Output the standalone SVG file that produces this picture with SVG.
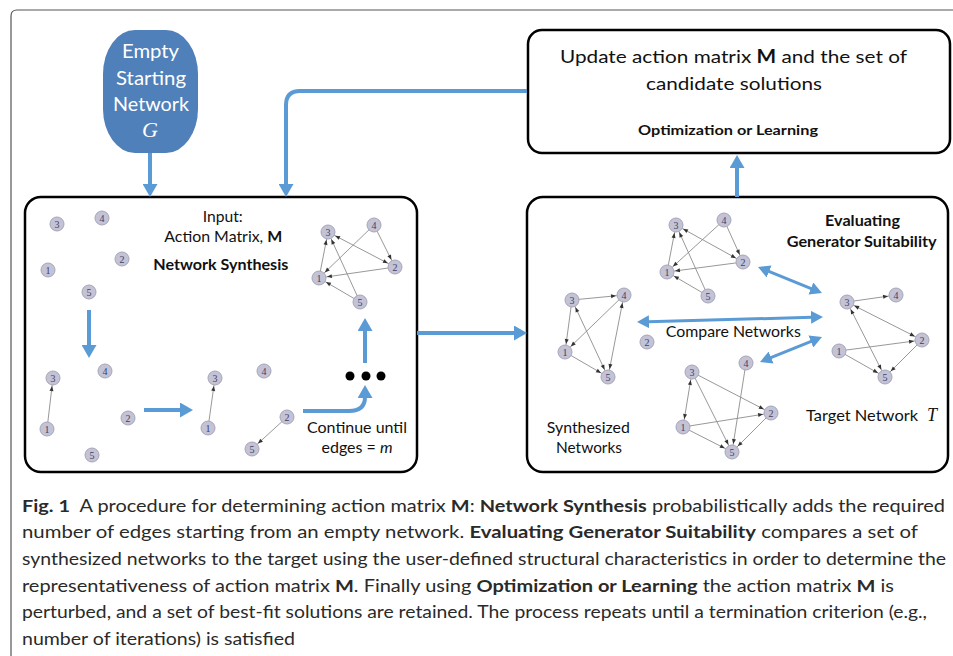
<svg xmlns="http://www.w3.org/2000/svg" width="953" height="656" viewBox="0 0 953 656">
<style>
.t{font-family:Lato,"Liberation Sans",sans-serif;fill:#111}
.b{font-weight:bold}
.box{fill:#fff;stroke:#000;stroke-width:2.5}
.blue{fill:none;stroke:#5b9bd5;stroke-width:4}
.blue3{fill:none;stroke:#5b9bd5;stroke-width:3}
.e1{stroke:#8c8c8c;stroke-width:0.9;fill:none;marker-end:url(#sa)}
.e2{stroke:#8c8c8c;stroke-width:0.9;fill:none;marker-end:url(#sa);marker-start:url(#sa)}
.n circle{fill:#c3c3d5;stroke:#a6a6ba;stroke-width:1}
.n text{font-family:"Liberation Serif",serif;font-size:10px;fill:#40406a;text-anchor:middle}
.cap{font-family:Lato,"Liberation Sans",sans-serif;font-size:17px;fill:#2a2a2a}
</style>
<defs>
<marker id="ba" viewBox="0 0 13 15" refX="1" refY="7.5" markerWidth="13" markerHeight="15" markerUnits="userSpaceOnUse" orient="auto-start-reverse">
<path d="M0,0 L13,7.5 L0,15 z" fill="#5b9bd5"/>
</marker>
<marker id="bs" viewBox="0 0 12 13" refX="1" refY="6.5" markerWidth="12" markerHeight="13" markerUnits="userSpaceOnUse" orient="auto-start-reverse">
<path d="M0,0 L12,6.5 L0,13 z" fill="#5b9bd5"/>
</marker>
<marker id="sa" viewBox="0 0 10 10" refX="26" refY="5" markerWidth="5" markerHeight="5" markerUnits="userSpaceOnUse" orient="auto-start-reverse" overflow="visible">
<path d="M0,1 L10,5 L0,9 z" fill="#333"/>
</marker>
</defs>
<rect width="953" height="656" fill="#fff"/>
<path d="M11,656 V16 Q11,10 17,10 H953" fill="none" stroke="#555" stroke-width="1.2"/>

<g id="empty-start">
<rect x="103" y="30" width="95" height="123" rx="32" ry="44" fill="#4f80b9"/>
<text class="t" x="150.5" y="57.5" font-size="19" style="fill:#fff" text-anchor="middle" textLength="57" lengthAdjust="spacingAndGlyphs">Empty</text>
<text class="t" x="151" y="85" font-size="19" style="fill:#fff" text-anchor="middle" textLength="70" lengthAdjust="spacingAndGlyphs">Starting</text>
<text class="t" x="151" y="110.5" font-size="19" style="fill:#fff" text-anchor="middle" textLength="76" lengthAdjust="spacingAndGlyphs">Network</text>
<text x="150" y="137" font-family="'Liberation Serif',serif" font-style="italic" font-size="22" fill="#fff" text-anchor="middle">G</text>
</g>

<g id="update-box">
<rect class="box" x="528" y="30" width="422" height="123" rx="14"/>
<text class="t" x="733.5" y="63" font-size="18" text-anchor="middle" textLength="347" lengthAdjust="spacingAndGlyphs">Update action matrix <tspan class="b">M</tspan> and the set of</text>
<text class="t" x="734" y="90" font-size="18" text-anchor="middle" textLength="176" lengthAdjust="spacingAndGlyphs">candidate solutions</text>
<text class="t b" x="728" y="135" font-size="14" text-anchor="middle" textLength="180" lengthAdjust="spacingAndGlyphs">Optimization or Learning</text>
</g>

<g id="network-synthesis">
<rect class="box" x="25" y="197" width="392" height="275" rx="16"/>
<text class="t" x="222.7" y="222" font-size="16" text-anchor="middle" textLength="40" lengthAdjust="spacingAndGlyphs">Input:</text>
<text class="t" x="223.3" y="242" font-size="16" text-anchor="middle" textLength="118" lengthAdjust="spacingAndGlyphs">Action Matrix, <tspan class="b">M</tspan></text>
<text class="t b" x="220.8" y="270" font-size="16" text-anchor="middle" textLength="135" lengthAdjust="spacingAndGlyphs">Network Synthesis</text>
<text class="t" x="357" y="433" font-size="16" text-anchor="middle" textLength="100" lengthAdjust="spacingAndGlyphs">Continue until</text>
<text class="t" x="357" y="453" font-size="16" text-anchor="middle" textLength="71" lengthAdjust="spacingAndGlyphs">edges = <tspan font-style="italic">m</tspan></text>
<g id="dots" fill="#000"><circle cx="350" cy="376" r="4.5"/><circle cx="366" cy="376" r="4.5"/><circle cx="381" cy="376" r="4.5"/></g>
<g id="ns-empty">
<g class="n"><circle cx="57" cy="224" r="7"/><text x="57" y="227.5">3</text></g>
<g class="n"><circle cx="102" cy="218" r="7"/><text x="102" y="221.5">4</text></g>
<g class="n"><circle cx="122" cy="259" r="7"/><text x="122" y="262.5">2</text></g>
<g class="n"><circle cx="48" cy="270" r="7"/><text x="48" y="273.5">1</text></g>
<g class="n"><circle cx="89" cy="292" r="7"/><text x="89" y="295.5">5</text></g>
</g>
<g id="ns-step1">
<path class="e1" d="M47,429 L53,378"/>
<g class="n"><circle cx="53" cy="378" r="7"/><text x="53" y="381.5">3</text></g>
<g class="n"><circle cx="105" cy="371" r="7"/><text x="105" y="374.5">4</text></g>
<g class="n"><circle cx="128" cy="418" r="7"/><text x="128" y="421.5">2</text></g>
<g class="n"><circle cx="47" cy="429" r="7"/><text x="47" y="432.5">1</text></g>
<g class="n"><circle cx="92" cy="455" r="7"/><text x="92" y="458.5">5</text></g>
</g>
<g id="ns-step2">
<path class="e1" d="M208,428 L215,378"/>
<path class="e1" d="M287,417 L252,449"/>
<g class="n"><circle cx="215" cy="378" r="7"/><text x="215" y="381.5">3</text></g>
<g class="n"><circle cx="264" cy="371" r="7"/><text x="264" y="374.5">4</text></g>
<g class="n"><circle cx="287" cy="417" r="7"/><text x="287" y="420.5">2</text></g>
<g class="n"><circle cx="208" cy="428" r="7"/><text x="208" y="431.5">1</text></g>
<g class="n"><circle cx="252" cy="449" r="7"/><text x="252" y="452.5">5</text></g>
</g>
<g id="ns-full">
<path class="e1" d="M319,278 L328,232"/>
<path class="e1" d="M360,302 L328,232"/>
<path class="e2" d="M395,267 L328,232"/>
<path class="e1" d="M374,225 L395,267"/>
<path class="e1" d="M374,225 L319,278"/>
<path class="e1" d="M395,267 L319,278"/>
<path class="e1" d="M360,302 L319,278"/>
<g class="n"><circle cx="328" cy="232" r="7"/><text x="328" y="235.5">3</text></g>
<g class="n"><circle cx="374" cy="225" r="7"/><text x="374" y="228.5">4</text></g>
<g class="n"><circle cx="395" cy="267" r="7"/><text x="395" y="270.5">2</text></g>
<g class="n"><circle cx="319" cy="278" r="7"/><text x="319" y="281.5">1</text></g>
<g class="n"><circle cx="360" cy="302" r="7"/><text x="360" y="305.5">5</text></g>
</g>
</g>

<g id="evaluating">
<rect class="box" x="527" y="197" width="421" height="275" rx="16"/>
<text class="t b" x="862.5" y="226" font-size="16" text-anchor="middle" textLength="75" lengthAdjust="spacingAndGlyphs">Evaluating</text>
<text class="t b" x="861.7" y="246.7" font-size="16" text-anchor="middle" textLength="150" lengthAdjust="spacingAndGlyphs">Generator Suitability</text>
<text class="t" x="733.3" y="337" font-size="16" text-anchor="middle" textLength="135" lengthAdjust="spacingAndGlyphs">Compare Networks</text>
<text class="t" x="588.3" y="433" font-size="16" text-anchor="middle" textLength="83" lengthAdjust="spacingAndGlyphs">Synthesized</text>
<text class="t" x="589" y="453" font-size="16" text-anchor="middle" textLength="66" lengthAdjust="spacingAndGlyphs">Networks</text>
<text class="t" x="862" y="421" font-size="16" text-anchor="middle" textLength="112" lengthAdjust="spacingAndGlyphs">Target Network</text>
<text x="932" y="421" font-family="'Liberation Serif',serif" font-style="italic" font-size="18" fill="#111" text-anchor="middle">T</text>
<g id="ev-synth1">
<path class="e1" d="M667,272 L676,225"/>
<path class="e1" d="M708,296 L676,225"/>
<path class="e2" d="M743,262 L676,225"/>
<path class="e1" d="M724,220 L743,262"/>
<path class="e1" d="M724,220 L667,272"/>
<path class="e1" d="M743,262 L667,272"/>
<path class="e1" d="M708,296 L667,272"/>
<g class="n"><circle cx="676" cy="225" r="7"/><text x="676" y="228.5">3</text></g>
<g class="n"><circle cx="724" cy="220" r="7"/><text x="724" y="223.5">4</text></g>
<g class="n"><circle cx="743" cy="262" r="7"/><text x="743" y="265.5">2</text></g>
<g class="n"><circle cx="667" cy="272" r="7"/><text x="667" y="275.5">1</text></g>
<g class="n"><circle cx="708" cy="296" r="7"/><text x="708" y="299.5">5</text></g>
</g>
<g id="ev-synth2">
<path class="e1" d="M572,300 L624,295"/>
<path class="e1" d="M572,300 L565,352"/>
<path class="e1" d="M624,295 L565,352"/>
<path class="e2" d="M624,295 L608,377"/>
<path class="e2" d="M572,300 L608,377"/>
<path class="e1" d="M565,352 L608,377"/>
<g class="n"><circle cx="572" cy="300" r="7"/><text x="572" y="303.5">3</text></g>
<g class="n"><circle cx="624" cy="295" r="7"/><text x="624" y="298.5">4</text></g>
<g class="n"><circle cx="565" cy="352" r="7"/><text x="565" y="355.5">1</text></g>
<g class="n"><circle cx="608" cy="377" r="7"/><text x="608" y="380.5">5</text></g>
<g class="n"><circle cx="647" cy="342" r="7"/><text x="647" y="345.5">2</text></g>
</g>
<g id="ev-synth3">
<path class="e1" d="M692,372 L771,413"/>
<path class="e2" d="M692,372 L683,427"/>
<path class="e1" d="M683,427 L771,413"/>
<path class="e1" d="M683,427 L732,452"/>
<path class="e1" d="M692,372 L732,452"/>
<path class="e1" d="M746,363 L732,452"/>
<path class="e1" d="M771,413 L732,452"/>
<g class="n"><circle cx="692" cy="372" r="7"/><text x="692" y="375.5">3</text></g>
<g class="n"><circle cx="746" cy="363" r="7"/><text x="746" y="366.5">4</text></g>
<g class="n"><circle cx="771" cy="413" r="7"/><text x="771" y="416.5">2</text></g>
<g class="n"><circle cx="683" cy="427" r="7"/><text x="683" y="430.5">1</text></g>
<g class="n"><circle cx="732" cy="452" r="7"/><text x="732" y="455.5">5</text></g>
</g>
<g id="ev-target">
<path class="e1" d="M847,302 L896,295"/>
<path class="e2" d="M847,302 L922,340"/>
<path class="e2" d="M847,302 L885,377"/>
<path class="e1" d="M839,351 L922,340"/>
<path class="e1" d="M839,351 L885,377"/>
<path class="e1" d="M922,340 L885,377"/>
<g class="n"><circle cx="847" cy="302" r="7"/><text x="847" y="305.5">3</text></g>
<g class="n"><circle cx="896" cy="295" r="7"/><text x="896" y="298.5">4</text></g>
<g class="n"><circle cx="922" cy="340" r="7"/><text x="922" y="343.5">2</text></g>
<g class="n"><circle cx="839" cy="351" r="7"/><text x="839" y="354.5">1</text></g>
<g class="n"><circle cx="885" cy="377" r="7"/><text x="885" y="380.5">5</text></g>
</g>
</g>

<g id="connectors">
<path class="blue" d="M150,153 V185" marker-end="url(#ba)"/>
<path class="blue" d="M527,91 H300 Q286,91 286,105 V185" marker-end="url(#ba)"/>
<path class="blue" d="M417,333 H515" marker-end="url(#ba)"/>
<path class="blue" d="M737,197 V167" marker-end="url(#ba)"/>
<path class="blue" d="M89,310 V346" marker-end="url(#ba)"/>
<path class="blue" d="M144,410 H181" marker-end="url(#ba)"/>
<path class="blue" d="M303,411 H349 Q365,411 365,397" marker-end="url(#ba)"/>
<path class="blue" d="M365,363 V330" marker-end="url(#ba)"/>
<path class="blue3" d="M768.2,271.1 L811.8,288.9" marker-start="url(#bs)" marker-end="url(#bs)"/>
<path class="blue3" d="M648,321.7 L812,317.3" marker-start="url(#bs)" marker-end="url(#bs)"/>
<path class="blue3" d="M770.2,357.9 L811.8,341.1" marker-start="url(#bs)" marker-end="url(#bs)"/>
</g>

<g id="caption">
<text class="cap" x="22" y="511.5" textLength="923" lengthAdjust="spacingAndGlyphs"><tspan font-weight="bold">Fig. 1</tspan>&#160; A procedure for determining action matrix <tspan font-weight="bold">M</tspan>: <tspan font-weight="bold">Network Synthesis</tspan> probabilistically adds the required</text>
<text class="cap" x="22" y="538" textLength="896" lengthAdjust="spacingAndGlyphs">number of edges starting from an empty network. <tspan font-weight="bold">Evaluating Generator Suitability</tspan> compares a set of</text>
<text class="cap" x="22" y="565" textLength="924" lengthAdjust="spacingAndGlyphs">synthesized networks to the target using the user-defined structural characteristics in order to determine the</text>
<text class="cap" x="22" y="591.5" textLength="872" lengthAdjust="spacingAndGlyphs">representativeness of action matrix <tspan font-weight="bold">M</tspan>. Finally using <tspan font-weight="bold">Optimization or Learning</tspan> the action matrix <tspan font-weight="bold">M</tspan> is</text>
<text class="cap" x="22" y="618" textLength="905" lengthAdjust="spacingAndGlyphs">perturbed, and a set of best-fit solutions are retained. The process repeats until a termination criterion (e.g.,</text>
<text class="cap" x="22" y="644.5" textLength="273" lengthAdjust="spacingAndGlyphs">number of iterations) is satisfied</text>
</g>
</svg>
